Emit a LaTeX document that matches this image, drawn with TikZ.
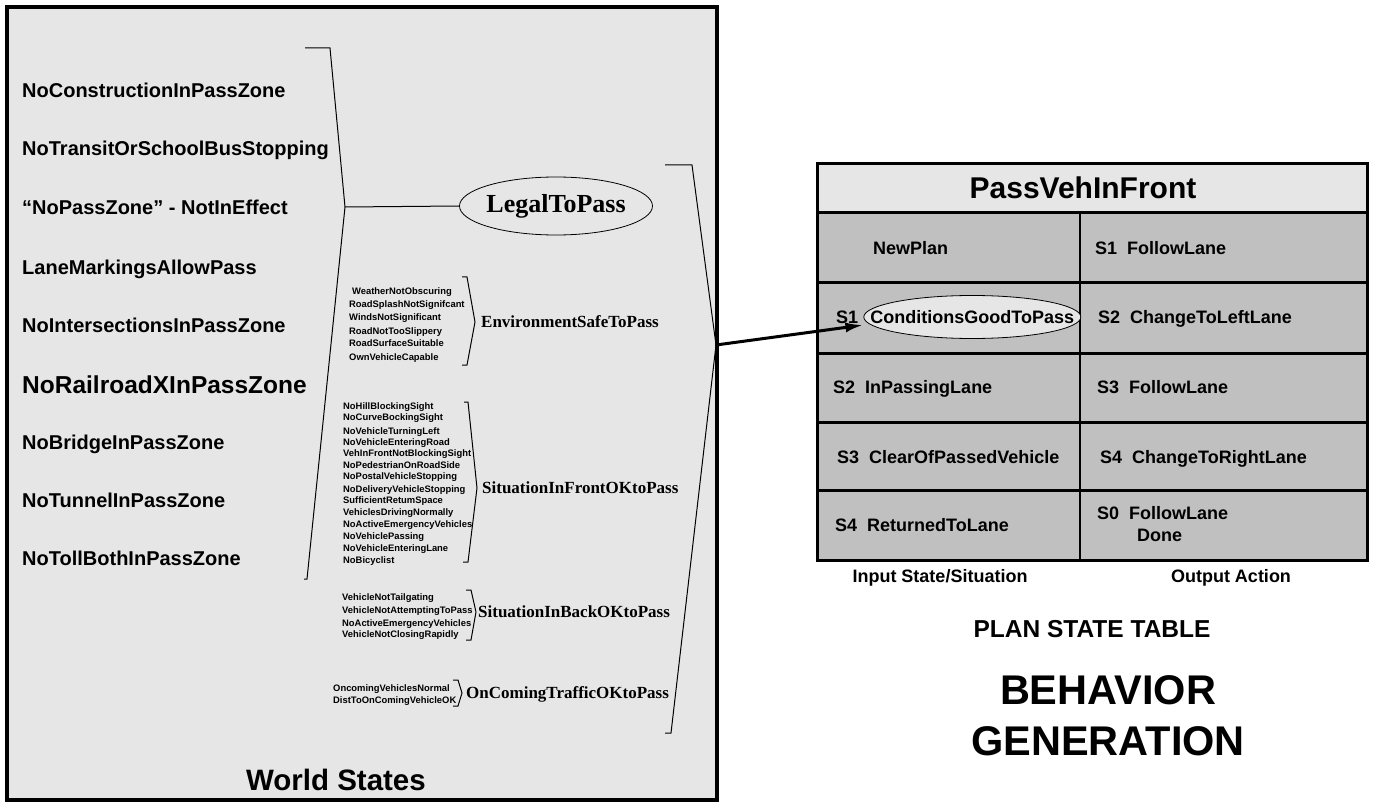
\documentclass[tikz,border=0pt]{standalone}
\usepackage{fontspec}
\setmainfont{Liberation Serif}
\setsansfont{Liberation Sans}
\usetikzlibrary{positioning,shapes.geometric,arrows.meta}
\definecolor{panelgray}{HTML}{E6E6E6}
\definecolor{cellgray}{HTML}{C0C0C0}
\tikzset{item/.style={anchor=west,inner sep=0pt,text height=14.3pt,text depth=0pt,font=\sffamily\bfseries\fontsize{20}{20}\selectfont}}
\tikzset{tiny/.style={anchor=west,inner sep=0pt,text height=6.7pt,text depth=0pt,font=\sffamily\bfseries\fontsize{9.4}{9.4}\selectfont}}
\tikzset{group/.style={anchor=west,inner sep=0pt,text height=11.3pt,text depth=0pt,font=\bfseries\fontsize{17}{17}\selectfont}}
\tikzset{cell/.style={anchor=west,inner sep=0pt,text height=12.9pt,text depth=0pt,font=\sffamily\bfseries\fontsize{18}{18}\selectfont}}
\tikzset{brace/.style={line width=1pt}}
\tikzset{rule/.style={line width=3pt}}

\begin{document}
\begin{tikzpicture}[x=1pt,y=-1pt]
  \useasboundingbox (0,0) rectangle (1377,805);
  % world states
  \draw[line width=3.5pt,fill=panelgray] (7,7) rectangle (717,800);
  \foreach \txt/\y [count=\i] in {NoConstructionInPassZone/90, NoTransitOrSchoolBusStopping/148,
      {“NoPassZone” - NotInEffect}/207, LaneMarkingsAllowPass/267, NoIntersectionsInPassZone/325}
    \node[item] (w\i) at (22,\y) {\txt};
  \node[item,text height=17.5pt,font=\sffamily\bfseries\fontsize{24.5}{24.5}\selectfont] (w6) at (22,385) {NoRailroadXInPassZone};
  \foreach \txt/\y [count=\i from 7] in {NoBridgeInPassZone/442, NoTunnelInPassZone/500, NoTollBothInPassZone/558}
    \node[item] (w\i) at (22,\y) {\txt};
  \node[item,anchor=east,text height=21pt,font=\sffamily\bfseries\fontsize{29.5}{29.5}\selectfont] (world) at (426,780) {World States};

  \coordinate (legalapex) at (345,207);
  \draw[brace] (305,48) -- (330,48) -- (legalapex) -- (307,579) -- (304,579);
  \node[draw,ellipse,line width=0.8pt,inner xsep=-2.5pt,inner ysep=0pt,minimum width=193pt,minimum height=58pt,
    font=\bfseries\fontsize{26}{26}\selectfont] (legal) at (556,206) {LegalToPass};
  \draw[brace] (legalapex) -- (legal.west);

  % environment
  \foreach \txt/\x/\y [count=\i] in {WeatherNotObscuring/352/291, RoadSplashNotSignifcant/349/304,
      WindsNotSignificant/349/317, RoadNotTooSlippery/349/331, RoadSurfaceSuitable/349/343, OwnVehicleCapable/349/357}
    \node[tiny] (env\i) at (\x,\y) {\txt};
  \coordinate (envapex) at (475,322);
  \draw[brace] (462,277) -- (467,277) -- (envapex) -- (467,365) -- (462,365);
  \node[group,right=6pt of envapex] (env) {EnvironmentSafeToPass};

  % situation in front
  \foreach \txt/\y [count=\i] in {NoHillBlockingSight/406, NoCurveBockingSight/417, NoVehicleTurningLeft/431,
      NoVehicleEnteringRoad/442, VehInFrontNotBlockingSight/453, NoPedestrianOnRoadSide/465,
      NoPostalVehicleStopping/476, NoDeliveryVehicleStopping/489, SufficientRetumSpace/500,
      VehiclesDrivingNormally/512, NoActiveEmergencyVehicles/524, NoVehiclePassing/536,
      NoVehicleEnteringLane/548, NoBicyclist/560}
    \node[tiny] (front\i) at (343,\y) {\txt};
  \coordinate (frontapex) at (477,488);
  \draw[brace] (464,402) -- (468,402) -- (frontapex) -- (468,562) -- (463,562);
  \node[group,right=5pt of frontapex] (front) {SituationInFrontOKtoPass};

  % situation in back
  \foreach \txt/\y [count=\i] in {VehicleNotTailgating/597, VehicleNotAttemptingToPass/610,
      NoActiveEmergencyVehicles/623, VehicleNotClosingRapidly/634}
    \node[tiny] (back\i) at (342,\y) {\txt};
  \coordinate (backapex) at (476,612);
  \draw[brace] (466,590) -- (471,590) -- (backapex) -- (471,640) -- (466,640);
  \node[group,right=2pt of backapex] (back) {SituationInBackOKtoPass};

  % oncoming
  \foreach \txt/\y [count=\i] in {OncomingVehiclesNormal/688, DistToOnComingVehicleOK/700}
    \node[tiny] (onc\i) at (333,\y) {\txt};
  \coordinate (oncapex) at (462,693);
  \draw[brace] (453,680) -- (458,680) -- (oncapex) -- (458,706) -- (453,706);
  \node[group,right=4pt of oncapex] (onc) {OnComingTrafficOKtoPass};

  \coordinate (passapex) at (716,345);
  \draw[brace] (665,165) -- (692,165) -- (passapex) -- (671,733) -- (665,733);

  % plan state table
  \draw[rule,fill=panelgray] (817,164) rectangle (1367,213);
  \draw[rule,fill=cellgray] (817,213) rectangle (1367,560);
  \foreach \y in {283,353,422,490}
    \draw[rule] (817,\y) -- (1367,\y);
  \draw[line width=2pt] (1080,213) -- (1080,560);
  \node[inner sep=0pt,font=\sffamily\bfseries\fontsize{30}{30}\selectfont] (title) at (1083,188) {PassVehInFront};

  \node[cell] (in1) at (873,248) {NewPlan};
  \node[cell] (out1) at (1095,248) {S1~~FollowLane};
  \node[cell] (in2) at (836,317) {S1};
  \node[cell,anchor=center,draw,ellipse,fill=panelgray,line width=0.8pt,inner xsep=-26pt,inner ysep=0pt,
    minimum width=217pt,minimum height=43pt,right=5pt of in2] (cond) {ConditionsGoodToPass};
  \node[cell] (out2) at (1098,317) {S2~~ChangeToLeftLane};
  \node[cell] (in3) at (833,387) {S2~~InPassingLane};
  \node[cell] (out3) at (1097,387) {S3~~FollowLane};
  \node[cell] (in4) at (837,457) {S3~~ClearOfPassedVehicle};
  \node[cell] (out4) at (1100,457) {S4~~ChangeToRightLane};
  \node[cell] (in5) at (835,525) {S4~~ReturnedToLane};
  \node[cell] (out5) at (1097,513) {S0~~FollowLane};
  \node[cell] (done) at (1137,535) {Done};

  \node[cell,anchor=center] (incap) at (940,576) {Input State/Situation};
  \node[cell,anchor=center] (outcap) at (1231,576) {Output Action};
  \node[cell,anchor=center,text height=17.5pt,font=\sffamily\bfseries\fontsize{24.5}{24.5}\selectfont] (plan) at (1092,629) {PLAN STATE TABLE};
  \node[cell,anchor=center,text height=29.7pt,font=\sffamily\bfseries\fontsize{41.5}{41.5}\selectfont] (beh) at (1108,690) {BEHAVIOR};
  \node[cell,anchor=center,text height=29.7pt,font=\sffamily\bfseries\fontsize{41.5}{41.5}\selectfont] (gen) at (1108,741) {GENERATION};

  \draw[line width=3pt,-{Latex[length=18pt,width=10pt]}] (passapex) -- ([yshift=-8pt]cond.west);
\end{tikzpicture}
\end{document}
